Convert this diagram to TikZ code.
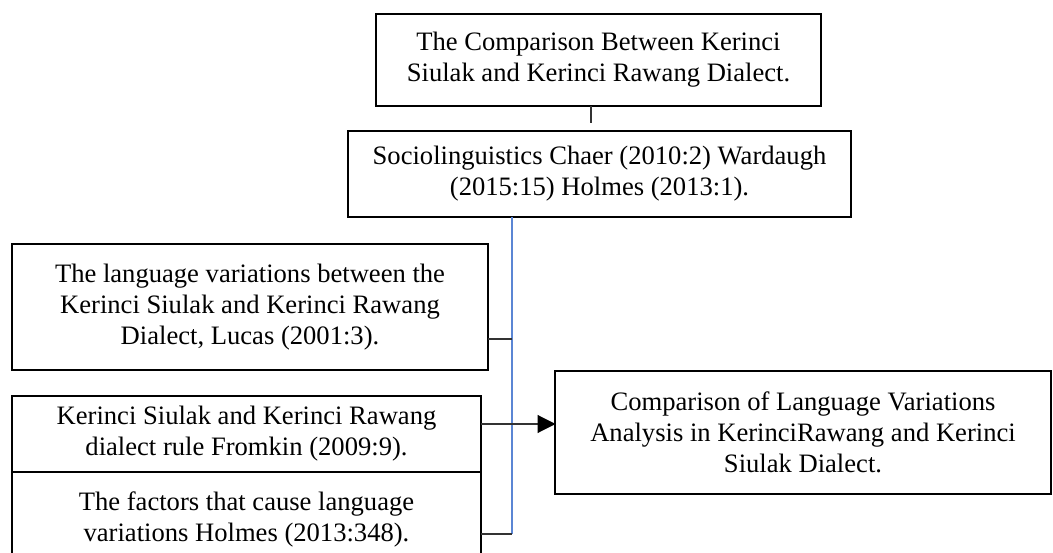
\documentclass[tikz,border=0pt]{standalone}
\usepackage{fontspec}
\setmainfont{Liberation Serif}
\usetikzlibrary{arrows.meta}
\definecolor{busblue}{RGB}{91,134,212}
\begin{document}
\begin{tikzpicture}[x=1pt,y=-1pt,
  box/.style={draw=black, line width=1.6pt, rectangle, inner sep=0pt, outer sep=0pt,
    align=center, font=\fontsize{26.6}{31}\selectfont},
  link/.style={draw=black!80, line width=1.1pt},
  bus/.style={draw=busblue, line width=1.1pt}]
\clip (0,0) rectangle (1053,553);
\fill[white] (0,0) rectangle (1053,553);

% boxes
\node[box, minimum width=445pt, minimum height=92pt] (top) at (598.5,60)
  {The Comparison Between Kerinci\\Siulak and Kerinci Rawang Dialect.};
\node[box, minimum width=503pt, minimum height=86pt] (socio) at (599.5,174)
  {Sociolinguistics Chaer (2010:2) Wardaugh\\(2015:15) Holmes (2013:1).};
\node[box, minimum width=476pt, minimum height=126pt] (var) at (250,307)
  {The language variations between the\\Kerinci Siulak and Kerinci Rawang\\Dialect, Lucas (2001:3).};
\node[box, minimum width=469pt, minimum height=76pt] (rule) at (246.5,434)
  {Kerinci Siulak and Kerinci Rawang\\dialect rule Fromkin (2009:9).};
\node[box, minimum width=469pt, minimum height=95pt, anchor=north] (fact) at (246.5,472)
  {The factors that cause language\\variations Holmes (2013:348).};
\node[box, minimum width=496pt, minimum height=123pt] (res) at (803,432.5)
  {Comparison of Language Variations\\Analysis in KerinciRawang and Kerinci\\Siulak Dialect.};

% connector points
\coordinate (stub) at (591,123);
\coordinate (busend) at (512,534);
\coordinate (varrow) at (0,339);
\coordinate (arrrow) at (0,424);

% connectors
\draw[link] (top.south -| stub) -- (stub);
\draw[bus] (socio.south -| busend) -- (busend);
\draw[link] (var.east |- varrow) -- (busend |- varrow);
\draw[link] (fact.east |- busend) -- (busend);
\draw[link, -{Triangle[length=18pt,width=18pt,fill=black,color=black]}, shorten >=-0.5pt] (rule.east |- arrrow) -- (res.west |- arrrow);
\end{tikzpicture}
\end{document}
